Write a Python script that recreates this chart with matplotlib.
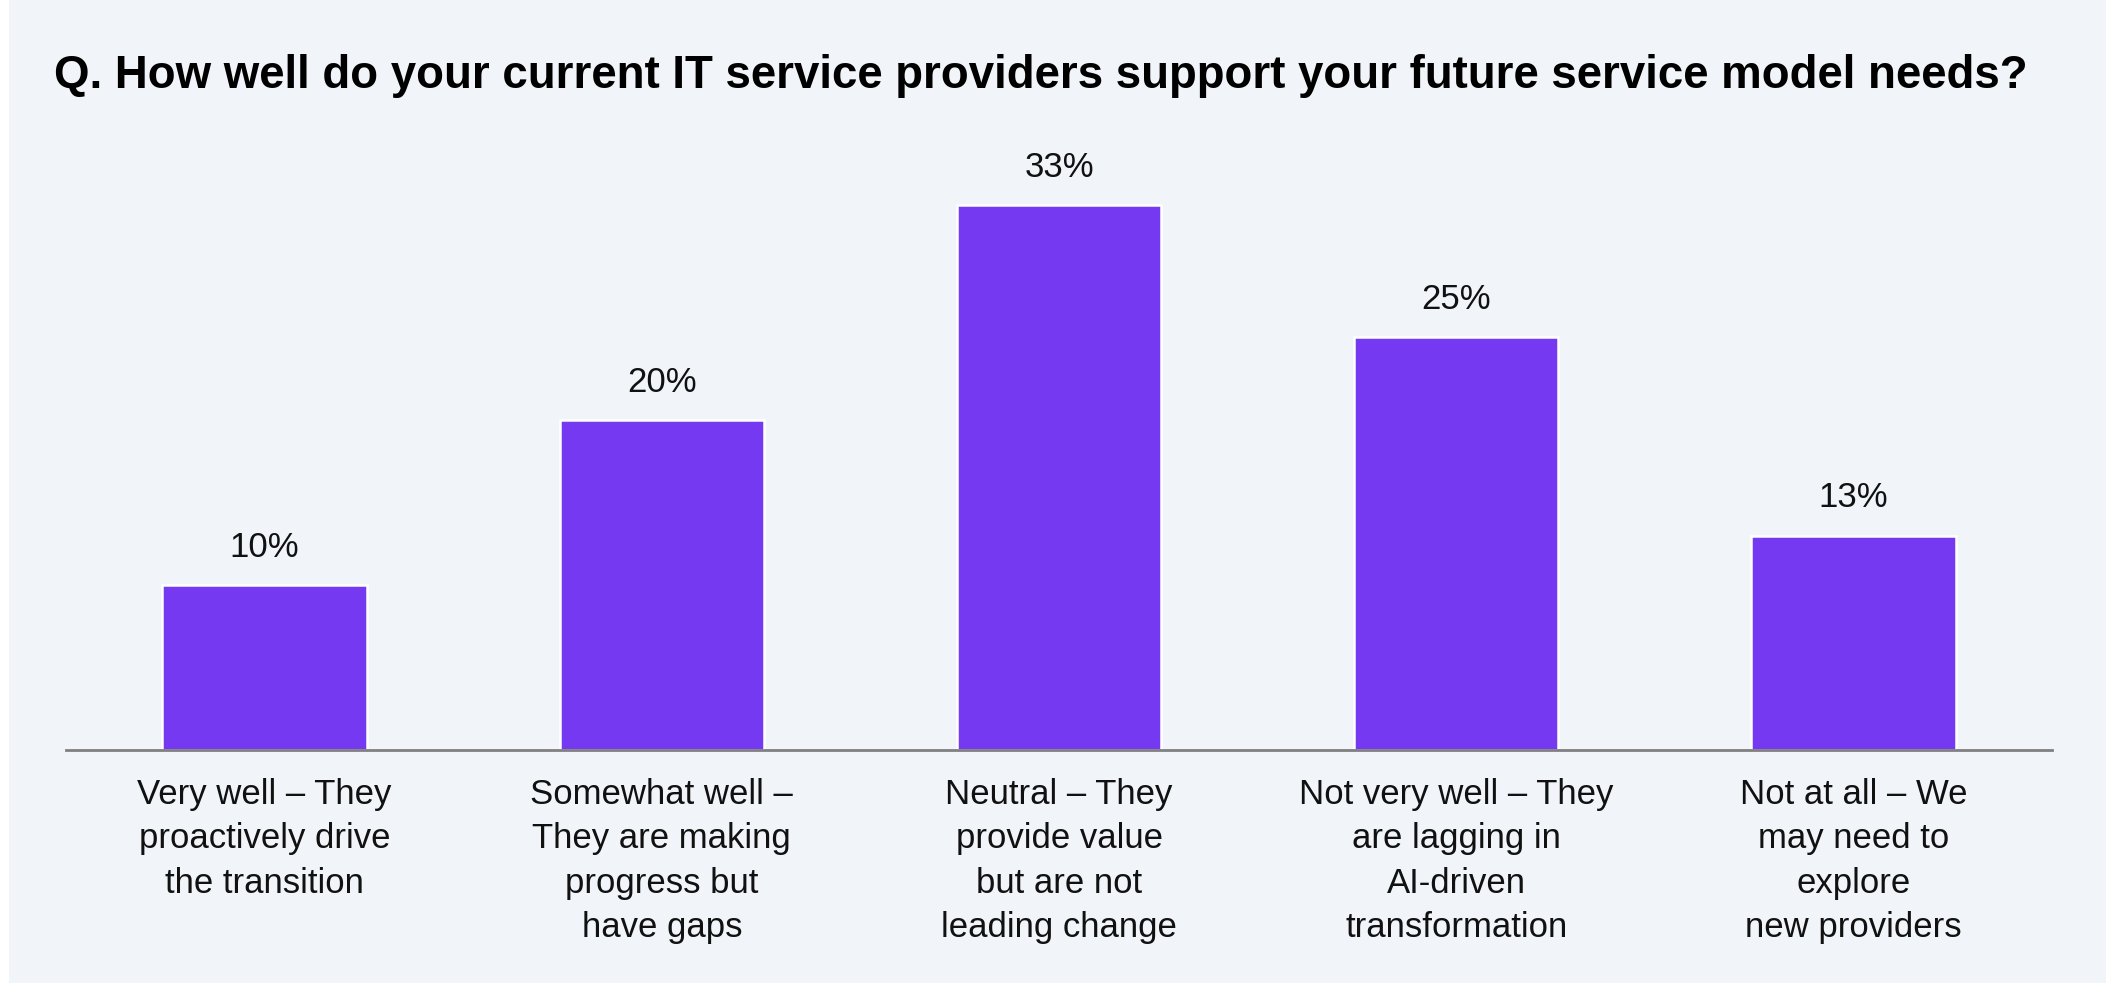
import matplotlib
matplotlib.use("Agg")
import matplotlib.pyplot as plt
from matplotlib.patches import Rectangle

categories = [
    "Very well – They\nproactively drive\nthe transition",
    "Somewhat well –\nThey are making\nprogress but\nhave gaps",
    "Neutral – They\nprovide value\nbut are not\nleading change",
    "Not very well – They\nare lagging in\nAI-driven\ntransformation",
    "Not at all – We\nmay need to\nexplore\nnew providers",
]
values = [10, 20, 33, 25, 13]
value_labels = ["10%", "20%", "33%", "25%", "13%"]
title = "Q. How well do your current IT service providers support your future service model needs?"

BG = "#F1F5F9"
BAR = "#7539F2"
FONT = ["Liberation Sans", "DejaVu Sans"]
plt.rcParams["font.family"] = FONT

W, H = 2106, 983
fig = plt.figure(figsize=(W / 100, H / 100), dpi=100, facecolor="white")
fig.patches.append(Rectangle((9 / W, 0), 1 - 9 / W, 1, transform=fig.transFigure,
                             facecolor=BG, edgecolor="none", zorder=-10))

ax_left, ax_right = 66 / W, 2052 / W
base_px, top_px = 750, 100
ax = fig.add_axes([ax_left, (H - base_px) / H, ax_right - ax_left, (base_px - top_px) / H])
ax.set_facecolor("none")

x = list(range(len(values)))
bars = ax.bar(x, values, width=0.515, color=BAR, edgecolor="white", linewidth=1.8, zorder=3)
ax.set_xlim(-0.5, 4.5)
ax.set_ylim(0, (base_px - top_px) / 16.5)

for b, lab in zip(bars, value_labels):
    ax.annotate(lab, (b.get_x() + b.get_width() / 2, b.get_height()),
                xytext=(0, 20.5), textcoords="offset points",
                ha="center", va="baseline", fontsize=25, color="#111111")

for s in ["top", "right", "left"]:
    ax.spines[s].set_visible(False)
ax.spines["bottom"].set_color("#808080")
ax.spines["bottom"].set_linewidth(2)
ax.spines["bottom"].set_zorder(4)
ax.set_yticks([])
ax.set_xticks(x)
ax.set_xticklabels(categories, fontsize=25, color="#111111", linespacing=1.44,
                   multialignment="center")
ax.tick_params(axis="x", length=0, pad=20)

fig.text(54 / W, 1 - 76 / H, title, fontsize=32.9, fontweight="bold",
         ha="left", va="center", color="black")

fig.savefig("out.png", dpi=100, facecolor="white")
